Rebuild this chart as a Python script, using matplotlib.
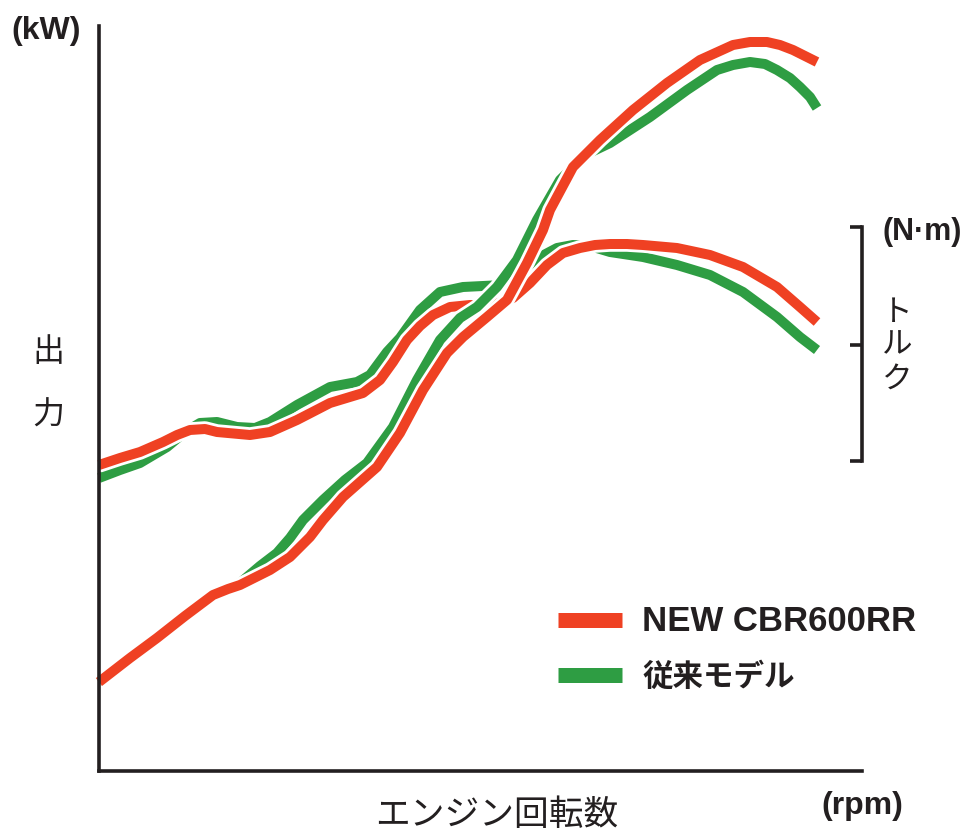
import matplotlib
matplotlib.use("Agg")
import matplotlib.pyplot as plt
import matplotlib.patheffects as pe
from matplotlib.lines import Line2D

# ---- data (relative units) ----
power_new_x = [0, 31, 58, 86, 114, 129, 141, 171, 191, 211, 224, 244, 261, 278, 301, 324, 348, 364, 388, 408, 428, 444, 451, 474, 501, 534, 568, 601, 634, 651, 668, 681, 694, 718]
power_new_y = [89, 113, 133, 155, 176, 182, 186, 201, 214, 234, 251, 274, 289, 304, 338, 381, 418, 434, 454, 471, 508, 541, 561, 604, 631, 661, 688, 711, 726, 729, 729, 726, 721, 709]

power_old_x = [0, 31, 58, 86, 114, 129, 141, 161, 178, 191, 204, 224, 246, 268, 294, 318, 341, 361, 378, 398, 418, 438, 461, 486, 511, 551, 588, 618, 634, 651, 666, 678, 691, 701, 711, 718]
power_old_y = [89, 113, 133, 155, 176, 182, 188, 205, 218, 233, 251, 271, 291, 308, 344, 391, 431, 453, 464, 484, 511, 551, 591, 616, 628, 654, 681, 701, 706, 709, 707, 701, 693, 684, 674, 663]

torque_new_x = [0, 21, 41, 64, 78, 91, 106, 118, 151, 171, 198, 231, 264, 281, 294, 308, 321, 334, 351, 371, 391, 414, 431, 448, 464, 481, 496, 511, 528, 544, 578, 611, 644, 678, 701, 718]
torque_new_y = [306, 313, 319, 329, 336, 341, 342, 339, 336, 339, 351, 368, 378, 391, 409, 431, 445, 456, 464, 466, 465, 473, 488, 506, 518, 523, 526, 527, 527, 526, 523, 516, 504, 484, 464, 449]

torque_old_x = [0, 21, 41, 68, 86, 101, 118, 138, 156, 171, 198, 231, 258, 271, 288, 301, 321, 341, 364, 384, 404, 421, 441, 458, 474, 491, 511, 544, 578, 611, 644, 678, 701, 718]
torque_old_y = [293, 301, 308, 324, 339, 348, 349, 344, 343, 349, 366, 384, 389, 396, 419, 433, 461, 479, 484, 485, 486, 498, 514, 523, 526, 525, 519, 514, 506, 496, 479, 454, 434, 421]

series_labels = ["NEW CBR600RR", "従来モデル"]
y_label = "出力"
y2_label = "トルク"
x_label = "エンジン回転数"
unit_power = "(kW)"
unit_torque = "(N·m)"
unit_rpm = "(rpm)"

RED = "#EF4123"
GREEN = "#2E9D43"
INK = "#231F20"

W, H = 967, 832
fig = plt.figure(figsize=(W / 100, H / 100), dpi=100)
ax = fig.add_axes([99 / W, (H - 771) / H, 763 / W, 745 / H])
ax.set_xlim(0, 763)
ax.set_ylim(0, 745)

lw = 7.2
fx = [pe.Stroke(linewidth=lw + 4, foreground="white"), pe.Normal()]
for xs, ys, c in [(torque_old_x, torque_old_y, GREEN),
                  (torque_new_x, torque_new_y, RED),
                  (power_old_x, power_old_y, GREEN),
                  (power_new_x, power_new_y, RED)]:
    ax.plot(xs, ys, color=c, lw=lw, solid_capstyle="butt",
            solid_joinstyle="round", path_effects=fx, clip_on=False)

for s in ["top", "right"]:
    ax.spines[s].set_visible(False)
for s in ["left", "bottom"]:
    ax.spines[s].set_color(INK)
    ax.spines[s].set_linewidth(2.6)
ax.set_xticks([])
ax.set_yticks([])

# torque bracket on right
ax2 = ax.twinx()
ax2.set_ylim(0, 745)
for s in ["top", "left", "bottom"]:
    ax2.spines[s].set_visible(False)
ax2.spines["right"].set_color(INK)
ax2.spines["right"].set_linewidth(2.6)
ax2.spines["right"].set_bounds(310, 544)
ax2.set_yticks([310, 426, 544])
ax2.set_yticklabels([])
ax2.tick_params(axis="y", direction="in", length=9, width=2.6, color=INK)

lat_b = dict(family=["Liberation Sans", "Noto Sans CJK JP"], weight="bold", color=INK)
cjk = dict(family=["Noto Sans CJK JP", "DejaVu Sans"], color=INK)

def ft(px, py, s, **kw):
    fig.text(px / W, 1 - py / H, s, ha="center", va="center", **kw)

ft(46, 31, unit_power, fontsize=23, **lat_b)
ft(922, 232, unit_torque, fontsize=22, **lat_b)
ft(862, 806, unit_rpm, fontsize=23, **lat_b)
ft(497, 815, x_label, fontsize=25, **cjk)
for ch, py in zip(y_label, [352, 416]):
    ft(48, py, ch, fontsize=23, **cjk)
for ch, py in zip(y2_label, [312, 345, 379]):
    ft(897, py, ch, fontsize=22, **cjk)

handles = [Line2D([], [], color=RED, lw=10.8, solid_capstyle="butt"),
           Line2D([], [], color=GREEN, lw=10.8, solid_capstyle="butt")]
leg = fig.legend(handles, series_labels, loc="upper left",
                 bbox_to_anchor=(558 / W, 1 - 605 / H), frameon=False,
                 borderpad=0, borderaxespad=0, handlelength=2.1,
                 handletextpad=0.65, labelspacing=0.82,
                 prop=dict(family=["Liberation Sans", "Noto Sans CJK JP"], weight="bold", size=22))
for t in leg.get_texts():
    t.set_color(INK)
leg.get_texts()[0].set_fontsize(25)

fig.savefig("out.png", dpi=100, facecolor="white")
